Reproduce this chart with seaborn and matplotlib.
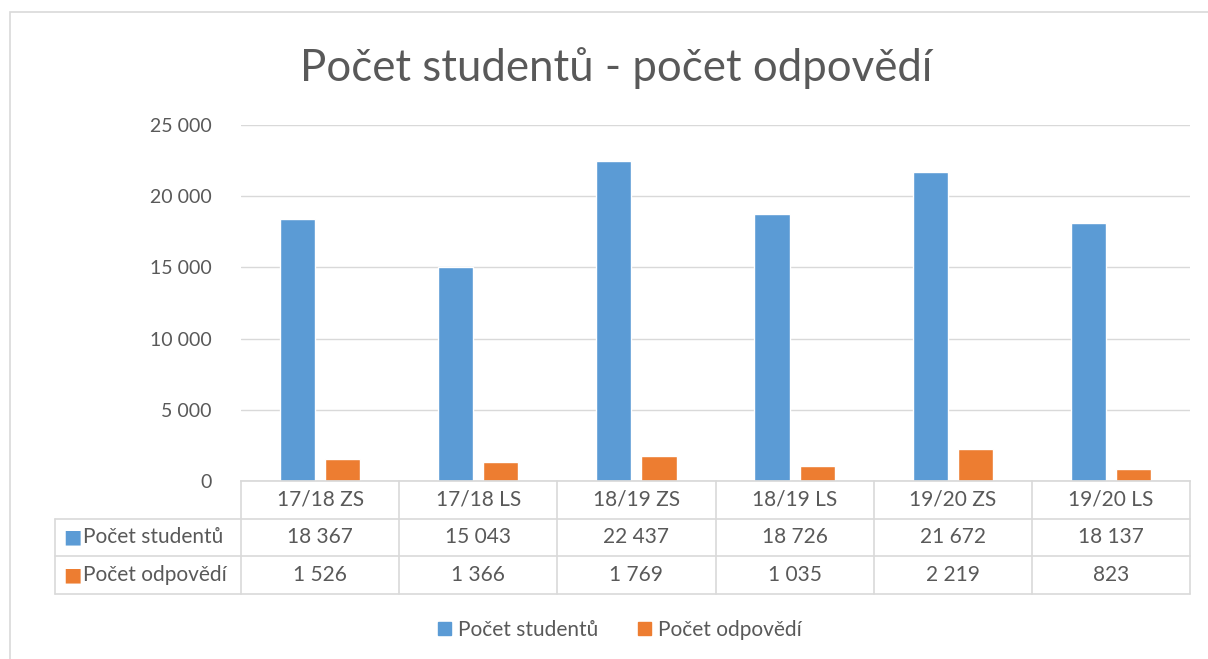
import pandas as pd
import matplotlib.pyplot as plt
import matplotlib.transforms as mtransforms
from matplotlib.patches import Rectangle
import seaborn as sns

# === Data ===
semesters = ["17/18 ZS", "17/18 LS", "18/19 ZS", "18/19 LS", "19/20 ZS", "19/20 LS"]
students = [18367, 15043, 22437, 18726, 21672, 18137]
answers = [1526, 1366, 1769, 1035, 2219, 823]
series_names = ["Počet studentů", "Počet odpovědí"]
y_ticks = [0, 5000, 10000, 15000, 20000, 25000]

colors = {"Počet studentů": "#5B9BD5", "Počet odpovědí": "#ED7D31"}
text_color = "#595959"
line_color = "#D9D9D9"


def fmt(v):
    return f"{v:,}".replace(",", " ")


df = pd.DataFrame({
    "semestr": semesters * 2,
    "serie": [series_names[0]] * len(semesters) + [series_names[1]] * len(semesters),
    "hodnota": students + answers,
})

# === Figure ===
sns.set_theme(style="white")
plt.rcParams["font.family"] = ["Lato", "DejaVu Sans"]

fig = plt.figure(figsize=(12.08, 6.59), dpi=100)
ax = fig.add_axes([241 / 1208, 1 - 481 / 659, (1190 - 241) / 1208, (481 - 125) / 659])

sns.barplot(data=df, x="semestr", y="hodnota", hue="serie", palette=colors,
            width=0.57, gap=0.22, saturation=1, ax=ax, legend=False)

ax.set_ylim(0, 25000)
ax.set_xlim(-0.5, len(semesters) - 0.5)
ax.set_yticks(y_ticks)
ax.set_yticklabels([fmt(t) for t in y_ticks], color=text_color, fontsize=14)
ax.tick_params(axis="y", length=0, pad=21)
ax.set_xticks([])
ax.set_xlabel("")
ax.set_ylabel("")
ax.grid(axis="y", color=line_color, linewidth=1)
ax.set_axisbelow(True)
for s in ["top", "right", "left"]:
    ax.spines[s].set_visible(False)
ax.spines["bottom"].set_color(line_color)

# === Data table under the axes ===
px = 1 / (481 - 125)  # one pixel in axes-fraction units (y)
trans = mtransforms.blended_transform_factory(ax.transData, ax.transAxes)
row_h = 37.5 * px
y_hdr_bot = -row_h
y_r1_bot = -2 * row_h
y_r2_bot = -3 * row_h
cat_px = (1190 - 241) / len(semesters)
left_x = -0.5 - (241 - 55) / cat_px
right_x = len(semesters) - 0.5

lkw = dict(color=line_color, linewidth=1.2, transform=trans, clip_on=False)
for i in range(len(semesters) + 1):
    xb = i - 0.5
    ax.plot([xb, xb], [0, y_r2_bot], **lkw)
for yb in [y_hdr_bot, y_r1_bot, y_r2_bot]:
    ax.plot([left_x, right_x], [yb, yb], **lkw)
ax.plot([left_x, left_x], [y_hdr_bot, y_r2_bot], **lkw)

tkw = dict(color=text_color, fontsize=15, ha="center", va="center", transform=trans, clip_on=False)
for i, sem in enumerate(semesters):
    ax.text(i, -row_h / 2, sem, **tkw)
    ax.text(i, y_hdr_bot - row_h / 2, fmt(students[i]), **tkw)
    ax.text(i, y_r1_bot - row_h / 2, fmt(answers[i]), **tkw)

for name, ybot in zip(series_names, [y_hdr_bot, y_r1_bot]):
    yc = ybot - row_h / 2
    ax.text(left_x + 8 / cat_px, yc, "■", color=colors[name], fontsize=14, ha="left", va="center",
            transform=trans, clip_on=False, family="DejaVu Sans")
    ax.text(left_x + 28 / cat_px, yc, name, color=text_color, fontsize=15, ha="left", va="center",
            transform=trans, clip_on=False)

# === Legend ===
handles = [Rectangle((0, 0), 1, 1, color=colors[n]) for n in series_names]
fig.legend(handles, series_names, loc="center", bbox_to_anchor=(620 / 1208, 1 - 630 / 659),
           ncol=2, frameon=False, fontsize=15, labelcolor=text_color,
           handlelength=0.6, handleheight=0.6, handletextpad=0.35, columnspacing=1.9)

# === Title and chart border ===
fig.text(616 / 1208, 1 - 68 / 659, "Počet studentů - počet odpovědí", ha="center", va="center",
         fontsize=31.5, color=text_color)
fig.patches.append(Rectangle((10 / 1208, -0.1), 1.2, 1 - 12 / 659 + 0.1, transform=fig.transFigure,
                             fill=False, edgecolor=line_color, linewidth=1.2))

plt.savefig("out.png", dpi=100)
